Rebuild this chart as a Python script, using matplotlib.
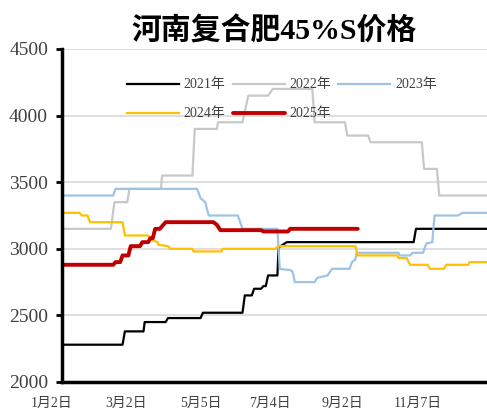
import matplotlib
matplotlib.use('Agg')
import matplotlib.pyplot as plt
import matplotlib.transforms as mtransforms

plt.rcParams['font.family'] = ['Liberation Serif', 'Noto Sans CJK SC']

# day of year / price (yuan per tonne)
days_2021 = [0, 52, 54, 70, 71, 89, 91, 119, 121, 155, 157, 163, 165, 171, 173, 175, 177,
             185, 186, 193, 302, 304, 365]
price_2021 = [2280, 2280, 2380, 2380, 2450, 2450, 2480, 2480, 2520, 2520, 2650, 2650, 2700,
              2700, 2720, 2720, 2800, 2800, 3010, 3050, 3050, 3150, 3150]

days_2022 = [0, 42, 45, 56, 58, 85, 86, 112, 114, 133, 134, 155, 160, 177, 181, 215, 217,
             243, 245, 263, 265, 309, 311, 322, 324, 365]
price_2022 = [3150, 3150, 3350, 3350, 3450, 3450, 3550, 3550, 3900, 3900, 3950, 3950, 4150,
              4150, 4200, 4200, 3950, 3950, 3850, 3850, 3800, 3800, 3600, 3600, 3400, 3400]

days_2023 = [0, 44, 46, 116, 119, 123, 126, 151, 153, 155, 185, 187, 196, 198, 200, 217, 219,
             223, 228, 232, 247, 249, 252, 253, 289, 290, 299, 301, 310, 313, 318, 320, 340,
             344, 365]
price_2023 = [3400, 3400, 3450, 3450, 3380, 3350, 3250, 3250, 3200, 3150, 3150, 2850, 2840,
              2830, 2750, 2750, 2780, 2790, 2800, 2850, 2850, 2900, 2920, 2970, 2970, 2950,
              2950, 2970, 2970, 3040, 3050, 3250, 3250, 3270, 3270]

days_2024 = [0, 15, 17, 22, 24, 52, 54, 74, 76, 82, 83, 91, 93, 112, 113, 137, 138, 183, 186,
             252, 254, 288, 289, 296, 299, 314, 316, 328, 330, 349, 350, 365]
price_2024 = [3270, 3270, 3250, 3250, 3200, 3200, 3100, 3100, 3070, 3050, 3030, 3020, 3000,
              3000, 2980, 2980, 3000, 3000, 3020, 3020, 2950, 2950, 2930, 2930, 2880, 2880,
              2850, 2850, 2880, 2880, 2900, 2900]

days_2025 = [0, 44, 46, 50, 52, 57, 59, 67, 69, 74, 76, 78, 80, 84, 89, 130, 133, 136, 171,
             173, 194, 196, 254]
price_2025 = [2880, 2880, 2900, 2900, 2950, 2950, 3020, 3020, 3050, 3050, 3080, 3080, 3150,
              3150, 3200, 3200, 3180, 3140, 3140, 3130, 3130, 3150, 3150]

tick_days = [1, 60, 124, 184, 244, 310]
tick_labels = ['1月2日', '3月2日', '5月5日', '7月4日', '9月2日', '11月7日']
label_shift = [-12, -6, -6, -6, -4, -5]  # px, where the labels sit

txt_color = '#404040'

fig = plt.figure(figsize=(4.87, 4.15), dpi=100)
ax = fig.add_axes([62 / 487, 1 - 382 / 415, 425 / 487, 333 / 415])

l21, = ax.plot(days_2021, price_2021, color='black', lw=1.6, label='2021年')
l22, = ax.plot(days_2022, price_2022, color='#C8C8C8', lw=1.6, label='2022年')
l23, = ax.plot(days_2023, price_2023, color='#9DC3E6', lw=1.6, label='2023年')
l24, = ax.plot(days_2024, price_2024, color='#FFC000', lw=1.6, label='2024年')
l25, = ax.plot(days_2025, price_2025, color='#C00000', lw=2.8, label='2025年',
               solid_capstyle='round')

ax.set_xlim(0, 365)
ax.set_ylim(2000, 4500)
ax.set_yticks(range(2000, 4501, 500))
ax.grid(axis='y', color='#D9D9D9', lw=1.2)
ax.set_axisbelow(True)

for s in ['top', 'right']:
    ax.spines[s].set_visible(False)
for s in ['left', 'bottom']:
    ax.spines[s].set_linewidth(2.5)

ax.tick_params(axis='y', length=4, width=2, pad=6, labelsize=14, labelcolor=txt_color)
ax.set_xticks(tick_days)
ax.set_xticklabels(tick_labels)
ax.tick_params(axis='x', length=0, pad=11, labelsize=10, labelcolor=txt_color)
for lab, dx in zip(ax.get_xticklabels(), label_shift):
    lab.set_transform(lab.get_transform() +
                      mtransforms.ScaledTranslation(dx / 100, 0, fig.dpi_scale_trans))

leg = ax.legend([l21, l24, l22, l25, l23], ['2021年', '2024年', '2022年', '2025年', '2023年'],
                ncol=3, frameon=False, fontsize=10, handlelength=3.75, handletextpad=0.36,
                columnspacing=0.5, labelspacing=1.15,
                loc='upper left', bbox_to_anchor=(0.123, 0.949))
for t in leg.get_texts():
    t.set_color(txt_color)

fig.text(274 / 487, 1 - 31 / 415, '河南复合肥45%S价格', ha='center', va='center',
         fontsize=21.5, fontweight='bold')

fig.savefig('out.png', dpi=100)
